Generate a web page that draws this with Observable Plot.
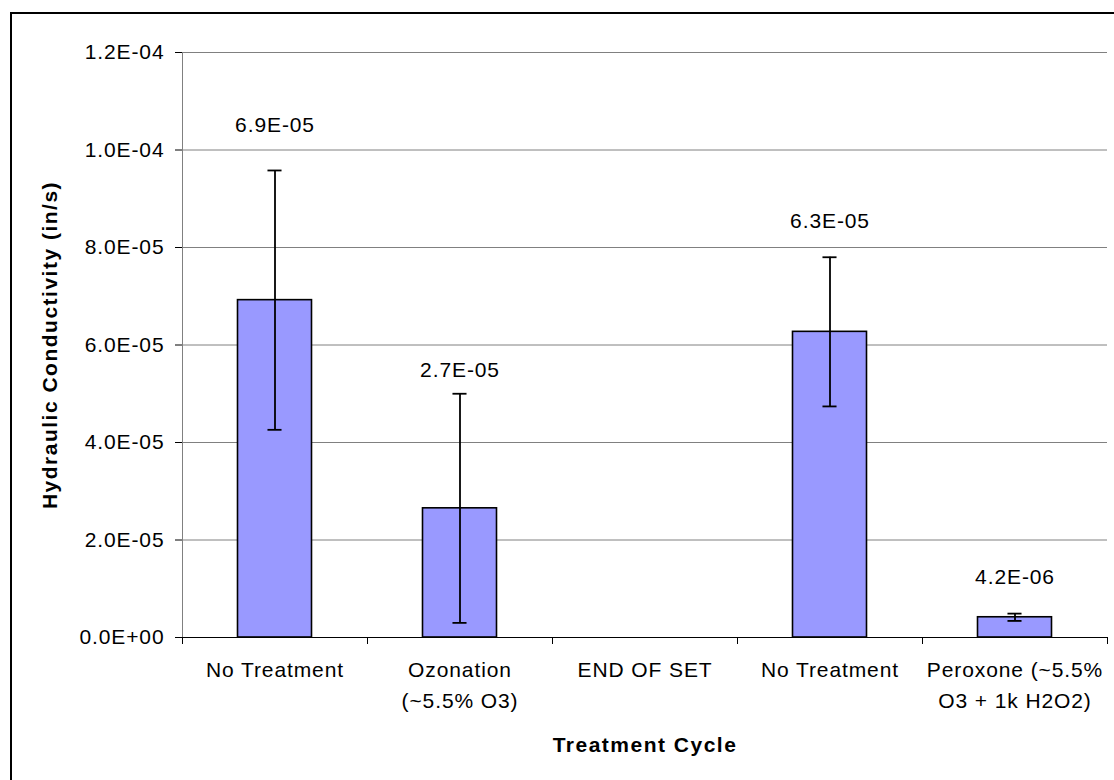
<!DOCTYPE html>
<html>
<head>
<meta charset="utf-8">
<script src="https://cdn.jsdelivr.net/npm/d3@7"></script>
<script src="https://cdn.jsdelivr.net/npm/@observablehq/plot@0.6"></script>
<style>
  html, body { margin: 0; padding: 0; background: #fff; overflow: hidden; }
  #wrap { position: relative; width: 1114px; height: 780px; overflow: hidden; }
  #border { position: absolute; left: 10px; top: 12px; width: 1200px; height: 900px;
            border-left: 2px solid #000; border-top: 2px solid #000; pointer-events: none; }
  .chart text { letter-spacing: 0.9px; }
  .chart g[font-weight="bold"] text { letter-spacing: 1.5px; }
</style>
</head>
<body>
<div id="wrap"><div id="border"></div></div>
<script>
// ---- data ----
const categories = ["No Treatment", "Ozonation\n(~5.5% O3)", "END OF SET", "No Treatment", "Peroxone (~5.5%\nO3 + 1k H2O2)"];
const kValues    = [6.92e-5, 2.65e-5, null, 6.27e-5, 0.415e-5];
const kError     = [2.66e-5, 2.35e-5, null, 1.53e-5, 0.075e-5];
const dataLabels = ["6.9E-05", "2.7E-05", null, "6.3E-05", "4.2E-06"];
const labelAt    = [10.51e-5, 5.48e-5, null, 8.53e-5, 1.24e-5];
const yTicks     = [0, 2e-5, 4e-5, 6e-5, 8e-5, 1.0e-4, 1.2e-4];
const yTitle = "Hydraulic Conductivity (in/s)";
const xTitle = "Treatment Cycle";

// ---- build table ----
const rows = categories.map((c, i) => ({
  i, cat: c, k: kValues[i], err: kError[i], label: dataLabels[i], labelAt: labelAt[i]
}));
const bars = rows.filter(d => d.k != null);
const bounds = d3.range(categories.length + 1).map(j => j - 0.5);

const fmtE = d => {
  if (d === 0) return "0.0E+00";
  const [m, e] = d.toExponential(1).split("e");
  const n = +e;
  return m + "E" + (n < 0 ? "-" : "+") + String(Math.abs(n)).padStart(2, "0");
};

const barHalf = 0.2;   // bar width as a fraction of the category step (Excel gap 150%)
const capHalf = 0.038;

const chart = Plot.plot({
  width: 1114,
  height: 780,
  marginLeft: 182,
  marginRight: 7,
  marginTop: 52,
  marginBottom: 143,
  className: "chart",
  style: { fontFamily: "'Liberation Sans', Arial, sans-serif", fontSize: "21px", color: "#000", background: "transparent" },
  x: { type: "linear", domain: [-0.5, categories.length - 0.5] },
  y: { domain: [0, 1.2e-4] },
  marks: [
    Plot.gridY(yTicks.filter(d => d > 0), { stroke: "#808080", strokeOpacity: 1, strokeWidth: 1 }),
    Plot.ruleX([-0.5], { stroke: "#808080", strokeWidth: 1 }),
    Plot.axisY({ ticks: yTicks, tickFormat: fmtE, tickSize: 7, tickPadding: 11, label: null, stroke: "#000", fontSize: 21 }),
    Plot.axisX({ ticks: bounds, tickFormat: () => "", tickSize: 7, label: null, stroke: "#000" }),
    Plot.rectY(bars, { x1: d => d.i - barHalf, x2: d => d.i + barHalf, y1: 0, y2: "k",
                       fill: "#9999FF", stroke: "#000", strokeWidth: 1.6 }),
    Plot.ruleY([0], { stroke: "#000", strokeWidth: 1.2 }),
    Plot.ruleX(bars, { x: "i", y1: d => d.k - d.err, y2: d => d.k + d.err, stroke: "#000", strokeWidth: 1.8 }),
    Plot.ruleY(bars, { y: d => d.k + d.err, x1: d => d.i - capHalf, x2: d => d.i + capHalf, stroke: "#000", strokeWidth: 1.8 }),
    Plot.ruleY(bars, { y: d => d.k - d.err, x1: d => d.i - capHalf, x2: d => d.i + capHalf, stroke: "#000", strokeWidth: 1.8 }),
    Plot.text(bars, { x: "i", y: "labelAt", text: "label", fill: "#000", fontSize: 21 }),
    Plot.text(rows, { x: "i", y: 0, text: "cat", lineAnchor: "top", dy: 18, lineHeight: 1.45, fill: "#000", fontSize: 21 }),
    Plot.text([yTitle], { frameAnchor: "left", dx: -132, rotate: -90, textAnchor: "middle", lineAnchor: "middle",
                          fontWeight: "bold", fontSize: 21, fill: "#000" }),
    Plot.text([xTitle], { frameAnchor: "bottom", dy: 108, textAnchor: "middle", lineAnchor: "middle",
                          fontWeight: "bold", fontSize: 21, fill: "#000" })
  ]
});
document.getElementById("wrap").prepend(chart);
</script>
</body>
</html>
